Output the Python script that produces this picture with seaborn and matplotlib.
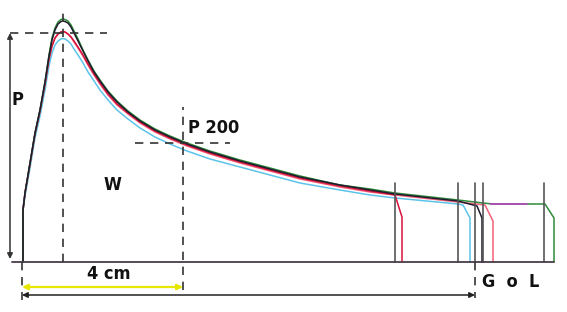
import matplotlib
matplotlib.use("Agg")
import matplotlib.pyplot as plt
import seaborn as sns
import pandas as pd

# ---- data (horizontal distance / height from origin, drawing units) ----
x_body = [1, 1, 3, 8, 13, 18, 23, 27, 30, 33, 36, 39, 41, 43, 46, 49, 52, 56, 61, 66,
          72, 78, 86, 95, 106, 118, 133, 148, 165, 188, 218, 248, 278, 318, 348, 373]

y_green   = [0, 52, 69, 99, 129, 152, 180, 207, 224, 234, 240, 242.5, 243, 242.5, 241, 237, 231, 223, 212, 202,
             191, 182, 171, 161, 151, 142, 133, 126, 119, 111, 102, 94, 86, 77, 73, 69]
y_black   = [0, 52, 69, 99, 129, 152, 180, 206, 222, 232, 238, 240.5, 241, 240.5, 239, 235, 229, 221, 211, 201,
             190, 181, 170, 160, 150, 141, 132, 125, 118, 110, 101, 93, 85, 77, 72, 68]
y_salmon  = [0, 52, 69, 98, 128, 151, 178, 203, 216, 224, 228, 230, 230.5, 230, 228, 225, 220, 214, 206, 197,
             187, 178, 167, 157, 148, 139, 130, 123, 116, 108, 99, 91, 83, 75, 70, 67]
y_crimson = [0, 52, 69, 98, 128, 151, 178, 203, 216, 224, 228, 230, 230.5, 230, 228, 225, 221, 215, 207, 198,
             188, 179, 168, 158, 149, 140, 131, 124, 117, 109, 100, 92, 84, 76, 71, 67]
y_cyan    = [0, 52, 66, 94, 124, 146, 172, 196, 209, 217, 221, 223, 223.5, 223, 221, 218, 213, 207, 199, 190,
             181, 172, 162, 152, 143, 134, 125, 118, 111, 103, 95, 87, 79, 72, 67, 64]

tail_x_green   = [436, 461, 471, 523, 532, 532]
tail_y_green   = [62, 59, 58, 58, 44, 0]
tail_x_black   = [436, 455, 460, 460]
tail_y_black   = [61, 56, 44, 0]
tail_x_salmon  = [436, 463, 471, 471]
tail_y_salmon  = [60, 57, 41, 0]
tail_x_crimson = [380, 380]
tail_y_crimson = [45, 0]
tail_x_cyan    = [436, 441, 448, 448]
tail_y_cyan    = [58, 57, 44, 0]
magenta_x      = [468, 505]
magenta_y      = [58, 58]

marker_x = [373, 436, 453, 461, 522]   # grey reading lines
marker_top = 79

P_level = 229          # height of P
L_peak = 41            # abscissa of peak
P200_x = 161           # 4 cm
P200_y = 119
G_x = 453              # end abscissa (G or L)

sns.set_theme(style="white")
plt.rcParams["font.family"] = ["DejaVu Sans"]

fig = plt.figure(figsize=(5.67, 3.12), dpi=100)
ax = fig.add_axes([0, 0, 1, 1])

curves = [
    ("cyan", x_body + tail_x_cyan, y_cyan + tail_y_cyan, "#5cc3ea"),
    ("salmon", x_body + tail_x_salmon, y_salmon + tail_y_salmon, "#f2607a"),
    ("crimson", x_body + tail_x_crimson, y_crimson + tail_y_crimson, "#d8123c"),
    ("green", x_body + tail_x_green, y_green + tail_y_green, "#2e8b3a"),
    ("black", x_body + tail_x_black, y_black + tail_y_black, "#1f1a2c"),
    ("magenta", magenta_x, magenta_y, "#c03cc8"),
]
for name, xs, ys, col in curves:
    df = pd.DataFrame({"x": xs, "y": ys})
    sns.lineplot(data=df, x="x", y="y", sort=False, estimator=None,
                 color=col, lw=1.1, ax=ax)

# grey reading lines
for mx in marker_x:
    ax.plot([mx, mx], [0, marker_top], color="#555555", lw=1.2)

# baseline
ax.plot([-10, 532], [0, 0], color="#4a3c4a", lw=1.3)

dash = dict(color="#333333", lw=1.2, ls=(0, (5, 4)))
ax.plot([L_peak, L_peak], [0, 255], **dash)
ax.plot([-12, 85], [P_level, P_level], **dash)
ax.plot([P200_x, P200_x], [-28, 155], **dash)
ax.plot([113, 208], [P200_y, P200_y], **dash)
ax.plot([0, 0], [0, -38], **dash)
ax.plot([G_x, G_x], [0, -36], **dash)

# P arrow
ax.annotate("", xy=(-12, P_level), xytext=(-12, 3),
            arrowprops=dict(arrowstyle="<|-|>", color="#333333", lw=1.1,
                            mutation_scale=8, shrinkA=0, shrinkB=0))
# 4 cm arrow
ax.annotate("", xy=(0, -25), xytext=(P200_x, -25),
            arrowprops=dict(arrowstyle="<|-|>", color="#e6e600", lw=1.6,
                            mutation_scale=8, shrinkA=0, shrinkB=0))
# G/L arrow
ax.annotate("", xy=(0, -33), xytext=(G_x, -33),
            arrowprops=dict(arrowstyle="<|-|>", color="#222222", lw=1.1,
                            mutation_scale=8, shrinkA=0, shrinkB=0))

tk = dict(fontweight="bold", color="#111111", fontsize=13, fontstretch="condensed")
ax.text(-5, 162, "P", ha="center", va="center", **tk)
ax.text(90, 77, "W", ha="center", va="center", **tk)
ax.text(192, 134, "P 200", ha="center", va="center", **tk)
ax.text(87, -12, "4 cm", ha="center", va="center", **tk)
ax.text(460, -20, "G  o  L", ha="left", va="center", **tk)

ax.set_xlim(-22, 545)
ax.set_ylim(-50, 262)
ax.axis("off")
fig.savefig("out.png", dpi=100)
